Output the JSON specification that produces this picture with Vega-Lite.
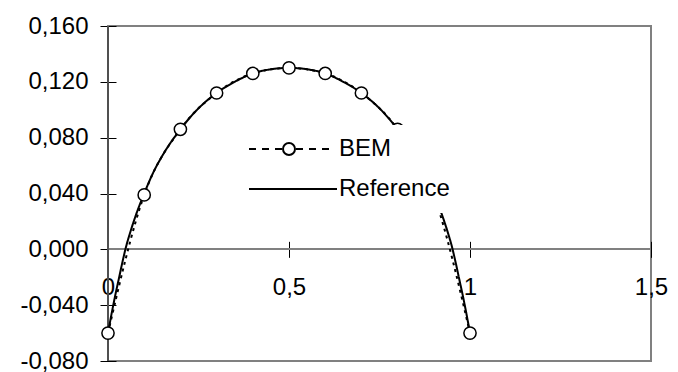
{
  "$schema": "https://vega.github.io/schema/vega-lite/v6.json",
  "width": 543,
  "height": 335,
  "autosize": {"type": "none"},
  "padding": {"left": 108, "top": 26, "right": 27, "bottom": 11},
  "background": "white",
  "config": {
    "locale": {"number": {"decimal": ",", "thousands": ".", "grouping": [3], "currency": ["", ""], "minus": "-"}},
    "view": {"stroke": "#808080", "strokeWidth": 2},
    "font": "Liberation Sans",
    "axis": {"grid": false, "domain": false, "labelFont": "Liberation Sans", "labelFontSize": 24, "labelColor": "black", "tickColor": "black", "tickWidth": 1, "tickSize": 16, "labelOverlap": false, "labelFlush": false, "title": null},
    "legend": {"labelFont": "Liberation Sans", "labelFontSize": 24, "labelColor": "black", "fillColor": "white", "padding": 12, "symbolSize": 100, "symbolStrokeWidth": 2, "symbolStrokeColor": "black", "symbolOpacity": 1, "labelOffset": 73, "orient": "none"}
  },
  "data": {"values": [
    {"series": "Reference", "x": 0, "y": -0.060},
    {"series": "Reference", "x": 0.01, "y": -0.046},
    {"series": "Reference", "x": 0.02, "y": -0.033},
    {"series": "Reference", "x": 0.03, "y": -0.021},
    {"series": "Reference", "x": 0.04, "y": -0.009},
    {"series": "Reference", "x": 0.05, "y": 0.002},
    {"series": "Reference", "x": 0.06, "y": 0.011},
    {"series": "Reference", "x": 0.075, "y": 0.023},
    {"series": "Reference", "x": 0.1, "y": 0.040},
    {"series": "Reference", "x": 0.125, "y": 0.055},
    {"series": "Reference", "x": 0.15, "y": 0.067},
    {"series": "Reference", "x": 0.2, "y": 0.086},
    {"series": "Reference", "x": 0.25, "y": 0.101},
    {"series": "Reference", "x": 0.3, "y": 0.112},
    {"series": "Reference", "x": 0.35, "y": 0.120},
    {"series": "Reference", "x": 0.4, "y": 0.126},
    {"series": "Reference", "x": 0.45, "y": 0.129},
    {"series": "Reference", "x": 0.5, "y": 0.130},
    {"series": "Reference", "x": 0.55, "y": 0.129},
    {"series": "Reference", "x": 0.6, "y": 0.126},
    {"series": "Reference", "x": 0.65, "y": 0.120},
    {"series": "Reference", "x": 0.7, "y": 0.112},
    {"series": "Reference", "x": 0.75, "y": 0.101},
    {"series": "Reference", "x": 0.8, "y": 0.086},
    {"series": "Reference", "x": 0.85, "y": 0.067},
    {"series": "Reference", "x": 0.875, "y": 0.055},
    {"series": "Reference", "x": 0.9, "y": 0.040},
    {"series": "Reference", "x": 0.925, "y": 0.023},
    {"series": "Reference", "x": 0.94, "y": 0.011},
    {"series": "Reference", "x": 0.95, "y": 0.002},
    {"series": "Reference", "x": 0.96, "y": -0.009},
    {"series": "Reference", "x": 0.97, "y": -0.021},
    {"series": "Reference", "x": 0.98, "y": -0.033},
    {"series": "Reference", "x": 0.99, "y": -0.046},
    {"series": "Reference", "x": 1.0, "y": -0.060},
    {"series": "BEM", "x": 0, "y": -0.060},
    {"series": "BEM", "x": 0.1, "y": 0.039},
    {"series": "BEM", "x": 0.2, "y": 0.086},
    {"series": "BEM", "x": 0.3, "y": 0.112},
    {"series": "BEM", "x": 0.4, "y": 0.126},
    {"series": "BEM", "x": 0.5, "y": 0.130},
    {"series": "BEM", "x": 0.6, "y": 0.126},
    {"series": "BEM", "x": 0.7, "y": 0.112},
    {"series": "BEM", "x": 0.8, "y": 0.086},
    {"series": "BEM", "x": 0.9, "y": 0.039},
    {"series": "BEM", "x": 1.0, "y": -0.060}
  ]},
  "layer": [
    {
      "mark": {"type": "rule", "color": "#808080", "strokeWidth": 1.5},
      "encoding": {"y": {"datum": 0, "type": "quantitative"}}
    },
    {
      "mark": {"type": "rule", "color": "#505050", "strokeWidth": 2},
      "encoding": {"x": {"datum": 0, "type": "quantitative"}}
    },
    {
      "mark": {"type": "line", "color": "black", "strokeWidth": 2, "interpolate": "monotone"},
      "encoding": {
        "x": {"field": "x", "type": "quantitative",
              "scale": {"domain": [0, 1.5], "nice": false, "zero": false},
              "axis": {"orient": "bottom", "offset": -119.67, "values": [0, 0.5, 1, 1.5], "format": "~g", "labelPadding": 18}},
        "y": {"field": "y", "type": "quantitative",
              "scale": {"domain": [-0.08, 0.16], "nice": false, "zero": false},
              "axis": {"orient": "left", "offset": -8, "values": [-0.08, -0.04, 0, 0.04, 0.08, 0.12, 0.16], "format": ".3f", "labelPadding": 12}},
        "strokeDash": {"field": "series", "type": "nominal",
          "scale": {"domain": ["BEM", "Reference"], "range": [[3, 4], [1, 0]]},
          "legend": {
            "title": null, "legendX": 122, "legendY": 139, "values": ["Reference"],
            "symbolType": "M-1,0H16.6"
          }}
      }
    },
    {
      "transform": [{"filter": "datum.series === 'BEM'"}],
      "mark": {"type": "point", "shape": "circle", "filled": true, "stroke": "black", "strokeWidth": 1.5, "size": 150, "opacity": 1},
      "encoding": {
        "x": {"field": "x", "type": "quantitative"},
        "y": {"field": "y", "type": "quantitative"},
        "fill": {"field": "series", "type": "nominal",
          "scale": {"domain": ["BEM"], "range": ["white"]},
          "legend": {
            "title": null, "legendX": 122, "legendY": 99,
            "symbolType": "M-1,0H0.4M1.6,0H3M4.2,0H5.6M8.4,0H9.8M11,0H12.4M13.6,0H15M5.8,0A1.2,1.2,0,1,1,8.2,0A1.2,1.2,0,1,1,5.8,0ZM39.4,0"
          }}
      }
    }
  ]
}
